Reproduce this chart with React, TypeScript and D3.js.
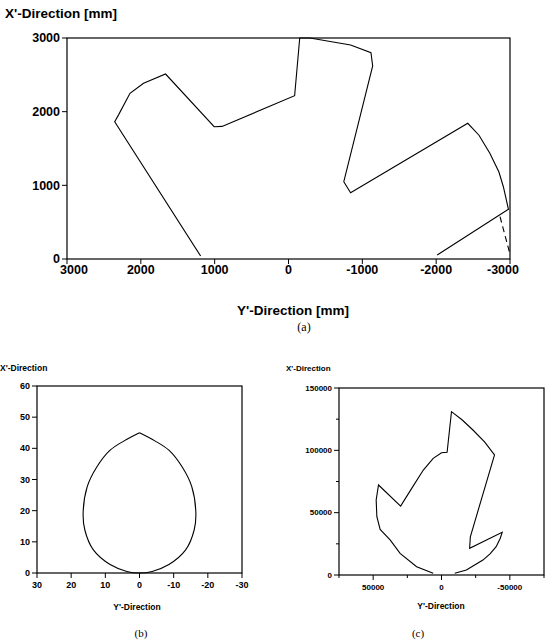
import React from 'react';
import * as d3 from 'd3';

// panel (a): outline of the work area, [Y', X'] in mm
const outlineA: [number, number][] = [
  [1190, 40], [2354, 1864], [2300, 1960], [2147, 2249], [1963, 2385], [1665, 2511],
  [1007, 1796], [900, 1800], [-83, 2217], [-152, 3000], [-290, 3000], [-841, 2905],
  [-1117, 2800], [-1140, 2620], [-749, 1049], [-841, 900], [-2428, 1842],
  [-2580, 1680], [-2727, 1435], [-2850, 1180], [-2910, 981], [-2979, 675], [-2014, 54],
];
const dashedA: [number, number][] = [[-2865, 574], [-3003, 54]];
const ticksAX = [3000, 2000, 1000, 0, -1000, -2000, -3000];
const ticksAY = [0, 1000, 2000, 3000];

// panel (b): teardrop, starting at the apex
const outlineB: [number, number][] = [
  [0, 45], [4.5, 42.4], [8.6, 39.4], [12.5, 34], [15.3, 27.7], [16.5, 19.1], [16, 13.8],
  [13.5, 7.4], [8.6, 2.7], [3.7, 0.5], [0, 0], [-3.7, 0.5], [-8.6, 2.7], [-13.5, 7.4],
  [-16, 13.8], [-16.5, 19.1], [-15.3, 27.7], [-12.5, 34], [-8.6, 39.4], [-4.5, 42.4], [0, 45],
];
const ticksBX = [30, 20, 10, 0, -10, -20, -30];
const ticksBY = [0, 10, 20, 30, 40, 50, 60];

// panel (c)
const outlineC: [number, number][] = [
  [6070, 1340], [18200, 6700], [30300, 17400], [37600, 28100], [44900, 36600], [47300, 46800],
  [47800, 60200], [46100, 72200], [29900, 55300], [21800, 69500], [13300, 84200], [6070, 93600],
  [0, 98100], [-4100, 98400], [-7300, 131000], [-15000, 124500], [-23000, 116300],
  [-31500, 106800], [-38800, 96300], [-21100, 30700], [-20600, 21400], [-44400, 34200],
  [-43000, 29500], [-40000, 22700], [-35500, 17000], [-30300, 12000], [-18200, 4000], [-9700, 1340],
];
const ticksCX = [50000, 0, -50000];
const minorCX = [75000, 25000, -25000, -75000];
const ticksCY = [0, 50000, 100000, 150000];
const minorCY = [25000, 75000, 125000];

type PanelProps = {
  left: number; right: number; top: number; bottom: number;
  xDomain: [number, number]; yDomain: [number, number];
  xTicks: number[]; yTicks: number[]; xMinor?: number[]; yMinor?: number[];
  paths: { pts: [number, number][]; curve: d3.CurveFactory; dash?: string }[];
  font: number; tickLen: number; xLabelDy: number; endInset?: number;
};

const Panel = (p: PanelProps) => {
  const x = d3.scaleLinear().domain(p.xDomain).range([p.left, p.right]);
  const y = d3.scaleLinear().domain(p.yDomain).range([p.bottom, p.top]);
  const ff = 'Liberation Sans, Arial, sans-serif';
  const inset = p.endInset || 0;
  return (
    <g>
      <rect x={p.left} y={p.top} width={p.right - p.left} height={p.bottom - p.top}
        fill="none" stroke="#000" strokeWidth={1.2} />
      {p.yTicks.map(t => (
        <g key={'y' + t}>
          <line x1={p.left - p.tickLen} x2={p.left} y1={y(t)} y2={y(t)} stroke="#000" />
          <text x={p.left - p.tickLen - 2} y={y(t)} dy="0.35em" textAnchor="end"
            fontFamily={ff} fontWeight="bold" fontSize={p.font}>{t}</text>
        </g>
      ))}
      {(p.yMinor || []).map(t => (
        <line key={'ym' + t} x1={p.left - p.tickLen * 0.6} x2={p.left} y1={y(t)} y2={y(t)} stroke="#000" />
      ))}
      {p.xTicks.map((t, i) => {
        const dx = i === 0 ? inset : i === p.xTicks.length - 1 ? -inset : 0;
        return (
          <g key={'x' + t}>
            <line x1={x(t)} x2={x(t)} y1={p.bottom} y2={p.bottom + p.tickLen} stroke="#000" />
            <text x={x(t) + dx} y={p.bottom + p.xLabelDy} textAnchor="middle"
              fontFamily={ff} fontWeight="bold" fontSize={p.font}>{t}</text>
          </g>
        );
      })}
      {(p.xMinor || []).map(t => (
        <line key={'xm' + t} x1={x(t)} x2={x(t)} y1={p.bottom} y2={p.bottom + p.tickLen * 0.6} stroke="#000" />
      ))}
      {p.paths.map((s, i) => {
        const line = d3.line<[number, number]>().x(d => x(d[0])).y(d => y(d[1])).curve(s.curve);
        return <path key={i} d={line(s.pts) || ''} fill="none" stroke="#000"
          strokeWidth={1.1} strokeDasharray={s.dash} />;
      })}
    </g>
  );
};

export default function App() {
  const ff = 'Liberation Sans, Arial, sans-serif';
  const serif = 'Liberation Serif, Times New Roman, serif';
  return (
    <svg width={556} height={643} style={{ position: 'absolute', left: 0, top: 0, background: '#fff' }}>
      {/* (a) */}
      <text x={5} y={18} fontFamily={ff} fontWeight="bold" fontSize={13.5}>X'-Direction [mm]</text>
      <Panel left={67} right={510} top={38} bottom={259}
        xDomain={[3000, -3000]} yDomain={[0, 3000]}
        xTicks={ticksAX} yTicks={ticksAY} font={12.5} tickLen={5} xLabelDy={15} endInset={7}
        paths={[
          { pts: outlineA, curve: d3.curveLinear },
          { pts: dashedA, curve: d3.curveLinear, dash: '6,4' },
        ]} />
      <text x={293} y={315} textAnchor="middle" fontFamily={ff} fontWeight="bold" fontSize={13.5}>Y'-Direction [mm]</text>
      <text x={304} y={331} textAnchor="middle" fontFamily={serif} fontSize={12}>(a)</text>

      {/* (b) */}
      <text x={0} y={371} fontFamily={ff} fontWeight="bold" fontSize={8.5}>X'-Direction</text>
      <Panel left={37} right={242} top={386} bottom={573}
        xDomain={[30, -30]} yDomain={[0, 60]}
        xTicks={ticksBX} yTicks={ticksBY} font={9} tickLen={5} xLabelDy={15}
        paths={[{ pts: outlineB, curve: d3.curveCatmullRom }]} />
      <text x={137} y={610} textAnchor="middle" fontFamily={ff} fontWeight="bold" fontSize={8.5}>Y'-Direction</text>
      <text x={141} y={637} textAnchor="middle" fontFamily={serif} fontSize={11}>(b)</text>

      {/* (c) */}
      <text x={286} y={371} fontFamily={ff} fontWeight="bold" fontSize={8}>X'-Direction</text>
      <Panel left={339} right={544} top={388} bottom={575}
        xDomain={[75000, -75000]} yDomain={[0, 150000]}
        xTicks={ticksCX} yTicks={ticksCY} xMinor={minorCX} yMinor={minorCY}
        font={8} tickLen={5} xLabelDy={15}
        paths={[{ pts: outlineC, curve: d3.curveLinear }]} />
      <text x={441} y={609} textAnchor="middle" fontFamily={ff} fontWeight="bold" fontSize={8.5}>Y'-Direction</text>
      <text x={418} y={637} textAnchor="middle" fontFamily={serif} fontSize={11}>(c)</text>
    </svg>
  );
}
